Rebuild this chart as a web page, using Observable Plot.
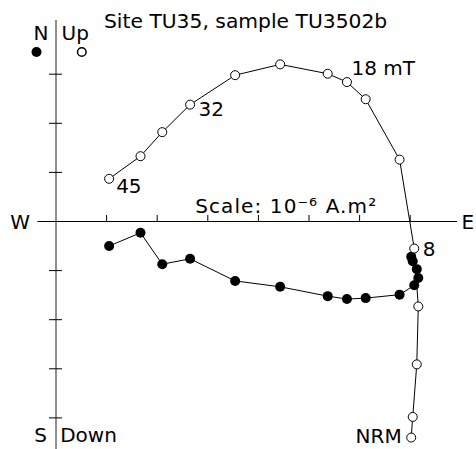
<!DOCTYPE html>
<html><head><meta charset="utf-8">
<script src="https://cdn.jsdelivr.net/npm/d3@7"></script>
<script src="https://cdn.jsdelivr.net/npm/@observablehq/plot@0.6"></script>
<style>body{margin:0;background:#fff} svg{display:block}</style>
</head><body><div id="chart"></div>
<script>
// Demagnetisation steps (AF, mT) – only some are labelled in the figure
const stepLabels = ["NRM", "", "", "", "8", "", "", "18 mT", "", "", "", "32", "", "", "45"];
// Components in units of 1e-6 A.m2 (one tick = 1 unit)
const east  = [7.02, 7.05, 7.13, 7.16, 7.08, 6.79, 6.12, 5.75, 5.37, 4.43, 3.54, 2.65, 2.10, 1.67, 1.05];
const north = [-0.72, -0.81, -0.97, -1.15, -1.30, -1.49, -1.56, -1.58, -1.52, -1.33, -1.21, -0.76, -0.87, -0.23, -0.50];
const up    = [-4.40, -3.98, -2.91, -1.73, -0.55, 1.26, 2.49, 2.84, 3.01, 3.20, 2.98, 2.38, 1.82, 1.33, 0.87];
const xTicks = [1, 2, 3, 4, 5, 6, 7];
const yTicks = [3, 2, 1, -1, -2, -3, -4];

const W = 476, H = 449;
const x0 = 55.5, y0 = 221, sx = 50.6, sy = 49.1; // layout (pixels per unit)
const data = east.map((e, i) => ({step: stepLabels[i], e, n: north[i], u: up[i]}));
const FS = 20, FF = "DejaVu Sans, Verdana, sans-serif";

const labelOffsets = {
  "NRM":   {dx: -9.5, dy: 5.5, anchor: "end"},
  "8":     {dx: 8.5, dy: 7, anchor: "start"},
  "18 mT": {dx: 4.5, dy: -7, anchor: "start"},
  "32":    {dx: 8.5, dy: 11, anchor: "start"},
  "45":    {dx: 7, dy: 14, anchor: "start"}
};
const labelMarks = Object.entries(labelOffsets).map(([k, o]) =>
  Plot.text(data.filter(d => d.step === k), {x: "e", y: "u", text: "step", dx: o.dx, dy: o.dy,
    textAnchor: o.anchor, lineAnchor: "bottom", fontSize: FS, fill: "black"}));

const fixedText = (t, dx, dy, anchor = "start", fs = FS) =>
  Plot.text([t], {frameAnchor: "top-left", dx, dy, text: d => d, textAnchor: anchor,
    lineAnchor: "bottom", fontSize: fs, fill: "black"});

const chart = Plot.plot({
  width: W, height: H, margin: 0,
  x: {domain: [-x0 / sx, (W - x0) / sx], axis: null},
  y: {domain: [-(H - y0) / sy, y0 / sy], axis: null},
  style: {fontFamily: FF, background: "white", overflow: "visible"},
  marks: [
    Plot.ruleY([0], {stroke: "black", insetLeft: 37.5, insetRight: 19}),
    Plot.ruleX([0], {stroke: "#222", insetTop: 20}),
    Plot.ruleX(xTicks, {y1: 0, y2: 6 / sy, stroke: "black"}),
    Plot.ruleY(yTicks, {x1: -6.5 / sx, x2: 6.5 / sx, stroke: "black"}),
    Plot.line(data, {x: "e", y: "u", stroke: "black", strokeWidth: 1}),
    Plot.line(data, {x: "e", y: "n", stroke: "black", strokeWidth: 1}),
    Plot.dot(data, {x: "e", y: "n", r: 5, fill: "black", stroke: "none"}),
    Plot.dot(data, {x: "e", y: "u", r: 4.5, fill: "white", stroke: "black", strokeWidth: 1}),
    ...labelMarks,
    fixedText("Site TU35, sample TU3502b", 103.5, 27, "start", 20.3),
    fixedText("N", 33, 39.5),
    fixedText("Up", 61, 39.5),
    Plot.dot([0], {frameAnchor: "top-left", dx: 36, dy: 51.5, r: 5, fill: "black", stroke: "none"}),
    Plot.dot([0], {frameAnchor: "top-left", dx: 81.3, dy: 51.5, r: 4.3, fill: "white", stroke: "black"}),
    fixedText("W", 9.8, 228.5),
    fixedText("E", 461, 228.5),
    fixedText("S", 33.7, 441.7),
    fixedText("Down", 59.7, 441.7),
    fixedText("Scale: 10\u207B\u2076 A.m\u00B2", 194.7, 212)
  ]
});
d3.select(chart).selectAll("text")
  .filter(function () { return this.textContent.startsWith("Scale"); })
  .attr("letter-spacing", "1.1px");
document.getElementById("chart").appendChild(chart);
</script>
</body></html>
